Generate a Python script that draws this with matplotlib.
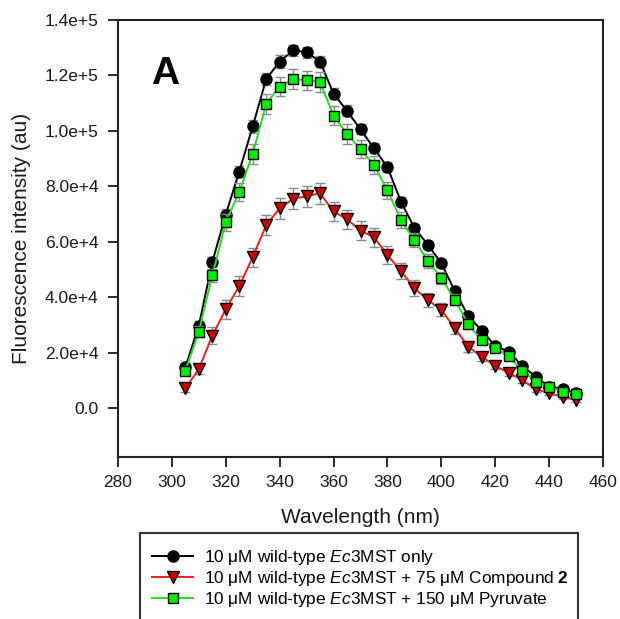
import matplotlib
matplotlib.use("Agg")
import matplotlib.pyplot as plt
from matplotlib.lines import Line2D
from matplotlib.patches import Rectangle
from matplotlib.ticker import FuncFormatter, MultipleLocator

plt.rcParams["font.family"] = ["Liberation Sans", "DejaVu Sans"]
plt.rcParams["mathtext.fontset"] = "custom"
plt.rcParams["mathtext.rm"] = "Liberation Sans"
plt.rcParams["mathtext.it"] = "Liberation Sans:italic"
plt.rcParams["mathtext.bf"] = "Liberation Sans:bold"

# Emission wavelengths (nm)
wavelength = [305, 310, 315, 320, 325, 330, 335, 340, 345, 350,
              355, 360, 365, 370, 375, 380, 385, 390, 395, 400,
              405, 410, 415, 420, 425, 430, 435, 440, 445, 450]

# Fluorescence intensity (au), mean values
wt_only = [14700, 29700, 52600, 69800, 85300, 101600, 118700, 125000, 129000, 128400,
           125000, 113400, 107200, 100500, 93700, 86900, 74500, 65000, 58900, 52200,
           42200, 33200, 27900, 22400, 20300, 15200, 11300, 7700, 6700, 5300]
wt_compound2 = [7100, 14000, 26100, 35600, 44000, 54400, 66000, 72000, 75500, 76400,
                77500, 70900, 68100, 64000, 61600, 55200, 49400, 43200, 39000, 35400,
                28800, 22100, 18500, 15200, 12700, 10100, 6800, 5300, 4100, 2900]
wt_pyruvate = [13500, 27500, 47800, 67000, 77900, 91700, 109700, 116000, 118700, 118200,
               117600, 105500, 98900, 93400, 87700, 78500, 67900, 60600, 53000, 47000,
               39000, 30200, 24500, 21600, 18800, 13500, 9500, 7700, 5900, 5100]

# Standard deviations (au)
wt_only_err = [1200, 1500, 1800, 2000, 2000, 2200, 2200, 2200, 2000, 2000,
               2000, 2000, 2000, 1800, 1800, 1800, 1600, 1500, 1500, 1400,
               1300, 1200, 1100, 1000, 1000, 900, 900, 800, 800, 800]
wt_compound2_err = [1500, 1800, 3000, 3500, 3500, 3500, 3500, 3800, 3800, 3800,
                    3800, 3500, 3500, 3500, 3500, 3200, 3000, 2800, 2500, 2300,
                    2000, 1800, 1500, 1300, 1200, 1000, 900, 800, 800, 800]
wt_pyruvate_err = [1500, 2000, 2500, 3000, 3200, 3500, 3500, 3500, 3500, 3500,
                   3500, 3500, 3500, 3300, 3200, 3000, 2800, 2600, 2400, 2200,
                   2000, 1800, 1600, 1400, 1300, 1100, 1000, 900, 900, 800]

labels = [
    "10 μM wild-type $\\mathit{Ec}$3MST only",
    "10 μM wild-type $\\mathit{Ec}$3MST + 75 μM Compound $\\mathbf{2}$",
    "10 μM wild-type $\\mathit{Ec}$3MST + 150 μM Pyruvate",
]

series = [
    (wt_only, wt_only_err, "black", "o", "black", 8.0),
    (wt_compound2, wt_compound2_err, "#ff1a1a", "v", "#d00000", 8.5),
    (wt_pyruvate, wt_pyruvate_err, "#22dd22", "s", "#00ee00", 7.0),
]

fig = plt.figure(figsize=(6.2, 6.19), dpi=100)
ax = fig.add_axes([118 / 620, 1 - 457 / 619, (603 - 118) / 620, (457 - 20) / 619])

handles = []
for i, (vals, errs, lc, mk, fc, ms) in enumerate(series):
    ax.errorbar(wavelength, vals, yerr=errs, fmt="none", ecolor="#8a8a8a",
                elinewidth=1.0, capsize=3.5, capthick=1.0, zorder=2 + i * 2)
    ax.plot(wavelength, vals, color=lc, lw=1.4, marker=mk, ms=ms,
            markerfacecolor=fc, markeredgecolor="black", markeredgewidth=1.0,
            zorder=3 + i * 2)
    handles.append(Line2D([0], [0], color=lc, lw=1.4, marker=mk, ms=ms,
                          markerfacecolor=fc, markeredgecolor="black",
                          markeredgewidth=1.0))

ax.set_xlim(280, 460)
ax.set_ylim(-17700, 140000)
ax.xaxis.set_major_locator(MultipleLocator(20))
ax.yaxis.set_major_locator(MultipleLocator(20000))


def sci_fmt(v, pos):
    if abs(v) < 1e-9:
        return "0.0"
    exp = 0
    m = v
    while abs(m) >= 10:
        m /= 10
        exp += 1
    return f"{m:.1f}e+{exp}"


ax.yaxis.set_major_formatter(FuncFormatter(sci_fmt))
ax.tick_params(direction="out", length=7, width=1.3, labelsize=12.5, pad=6,
               colors="#1a1a1a")
ax.tick_params(axis="y", pad=7)
for s in ax.spines.values():
    s.set_linewidth(1.5)
    s.set_color("#222222")

ax.set_xlabel("Wavelength (nm)", fontsize=15, labelpad=13, color="#1a1a1a")
ax.set_ylabel("Fluorescence intensity (au)", fontsize=15, labelpad=10,
              color="#1a1a1a")

ax.text(0.069, 0.876, "A", transform=ax.transAxes, fontsize=28,
        fontweight="bold", va="center", ha="left")

# Legend box, open at the bottom edge of the figure
fig.patches.append(Rectangle((140 / 620, -0.02), (578 - 140) / 620,
                             (619 - 533) / 619 + 0.02, transform=fig.transFigure,
                             fill=False, lw=1.5, ec="#333333"))
fig.legend(handles, labels, loc="upper left",
           bbox_to_anchor=(152 / 620, 1 - 548 / 619), frameon=False,
           borderpad=0, borderaxespad=0, handlelength=2.4, handletextpad=0.6,
           labelspacing=0.12, fontsize=12.4)

fig.savefig("out.png", dpi=100)
